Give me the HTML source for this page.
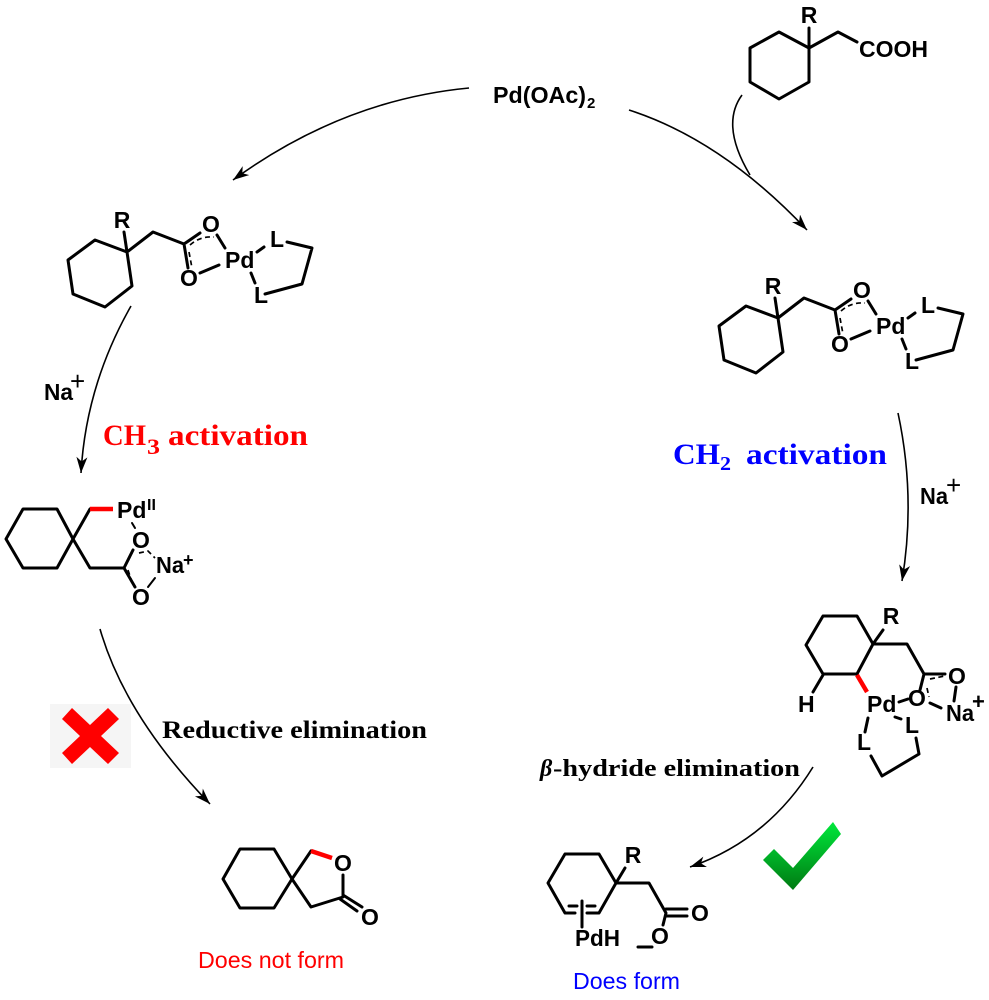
<!DOCTYPE html>
<html><head><meta charset="utf-8"><style>
html,body{margin:0;padding:0;background:#fff}
svg{display:block}
.b{fill:none;stroke:#000;stroke-width:3;stroke-linejoin:round;stroke-linecap:round}
.t{fill:none;stroke:#000;stroke-width:2;stroke-linecap:round}
.d{fill:none;stroke:#000;stroke-width:1.7;stroke-dasharray:5 3.5}
.r{fill:none;stroke:#f00;stroke-width:4.4}
.a{fill:none;stroke:#000;stroke-width:1.6}
text{font-family:"Liberation Sans",sans-serif;font-weight:bold;font-size:23px;fill:#000}
.m{text-anchor:middle}
.s{font-family:"Liberation Serif",serif}
.n{font-weight:normal}
</style></head><body>
<svg width="989" height="1000" viewBox="0 0 989 1000" xmlns="http://www.w3.org/2000/svg">
<defs>
<marker id="h" markerUnits="userSpaceOnUse" markerWidth="17" markerHeight="12" refX="16" refY="5.5" orient="auto"><path d="M0,0L16,5.5L0,11L4.5,5.5z" fill="#000"/></marker>
<linearGradient id="g" x1="0" y1="0" x2="0" y2="1"><stop offset="0" stop-color="#00e83c"/><stop offset="1" stop-color="#007a12"/></linearGradient>
</defs>

<!-- arrows -->
<path class="a" marker-end="url(#h)" d="M469,88Q343,100 233,180"/>
<path class="a" marker-end="url(#h)" d="M629,110Q722,140 807,230"/>
<path class="a" d="M742,95Q720,125 750,175"/>
<path class="a" marker-end="url(#h)" d="M131,306Q86,385 81,473"/>
<path class="a" marker-end="url(#h)" d="M898,413Q916,497 902,581"/>
<path class="a" marker-end="url(#h)" d="M100,629Q125,716 210,804"/>
<path class="a" marker-end="url(#h)" d="M813,767Q768,840 690,867"/>

<!-- Pd(OAc)2 -->
<text x="493" y="103" textLength="93" lengthAdjust="spacingAndGlyphs">Pd(OAc)</text><text x="587" y="108" style="font-size:15px">2</text>

<!-- top right substrate -->
<path class="b" d="M809,48L779,32L750,48L750,82L779,99L809,82ZM809,48L809,28M809,48L838,32L857,42"/>
<text class="m" x="809" y="23">R</text>
<text x="859" y="57" textLength="69" lengthAdjust="spacingAndGlyphs">COOH</text>

<!-- left complex -->
<path class="b" d="M127,252L95,240L68,260L73,294L105,307L132,286ZM127,252L124,232M127,252L153,232L184,244L200,233M184,244L188,268M217,235L225,248M200,273L219,265M257,252L264,247M251,273L255,283M287,242L312,248L302,284L265,294"/>
<path class="d" d="M190,245Q200,236 214,237M189,252L192,268"/>
<text class="m" x="122" y="228">R</text>
<text class="m" x="211" y="232">O</text>
<text class="m" x="189" y="286">O</text>
<text x="225" y="268">Pd</text>
<text x="270" y="247">L</text>
<text x="254" y="303">L</text>

<!-- right complex -->
<g transform="translate(651,66)">
<path class="b" d="M127,252L95,240L68,260L73,294L105,307L132,286ZM127,252L124,232M127,252L153,232L184,244L200,233M184,244L188,268M217,235L225,248M200,273L219,265M257,252L264,247M251,273L255,283M287,242L312,248L302,284L265,294"/>
<path class="d" d="M190,245Q200,236 214,237M189,252L192,268"/>
<text class="m" x="122" y="228">R</text>
<text class="m" x="211" y="232">O</text>
<text class="m" x="189" y="286">O</text>
<text x="225" y="268">Pd</text>
<text x="270" y="247">L</text>
<text x="254" y="303">L</text>
</g>

<!-- Na+ labels -->
<text x="44" y="400" textLength="29" lengthAdjust="spacingAndGlyphs">Na</text><text class="n" x="70" y="390" style="font-size:26px">+</text>
<text x="920" y="504" textLength="28" lengthAdjust="spacingAndGlyphs">Na</text><text class="n" x="946" y="494" style="font-size:26px">+</text>

<!-- activation labels -->
<text class="s" x="103" y="445" style="font-size:30px;fill:#f00" textLength="43" lengthAdjust="spacingAndGlyphs">CH</text>
<text class="s" x="147" y="454" style="font-size:22px;fill:#f00" textLength="13" lengthAdjust="spacingAndGlyphs">3</text>
<text class="s" x="168" y="445" style="font-size:30px;fill:#f00" textLength="140" lengthAdjust="spacingAndGlyphs">activation</text>
<text class="s" x="673" y="464" style="font-size:30px;fill:#00f" textLength="47" lengthAdjust="spacingAndGlyphs">CH</text>
<text class="s" x="720" y="470" style="font-size:20px;fill:#00f" textLength="11" lengthAdjust="spacingAndGlyphs">2</text>
<text class="s" x="746" y="464" style="font-size:30px;fill:#00f" textLength="141" lengthAdjust="spacingAndGlyphs">activation</text>

<!-- Pd II complex -->
<path class="b" d="M73,539L57,509L23,509L6,539L23,568L57,568ZM73,539L90,509M73,539L90,568L124,568L133,550M124,568L135,587"/>
<path class="r" d="M90,509L113,509"/>
<path class="t" d="M132,523L135,528M155,578L148,587"/>
<path class="d" d="M128,561L132,553M128,570L132,582M139,553L148,551L155,558"/>
<text x="117" y="518">Pd</text>
<text x="147" y="510" style="font-size:16px">II</text>
<text class="m" x="141" y="548">O</text>
<text class="m" x="141" y="605">O</text>
<text x="156" y="573" textLength="28" lengthAdjust="spacingAndGlyphs">Na</text>
<text x="183" y="566" style="font-size:18px">+</text>

<!-- bottom right complex -->
<path class="b" d="M873,644L857,616L823,616L806,645L823,674L857,674ZM873,644L883,630M873,644L907,644L924,674L945,674M924,674L920,690M823,675L813,692M956,687L954,701M930,703L941,708M899,702L908,699M868,718L865,732M895,717L901,719M916,738L919,754L882,776L871,756"/>
<path class="r" d="M857,675L867,692"/>
<path class="d" d="M930,679L945,676M927,688L929,697"/>
<text class="m" x="891" y="624">R</text>
<text class="m" x="957" y="684">O</text>
<text class="m" x="917" y="706">O</text>
<text x="946" y="721" textLength="28" lengthAdjust="spacingAndGlyphs">Na</text>
<text x="972" y="709" style="font-size:22px">+</text>
<text x="867" y="712">Pd</text>
<text x="798" y="712">H</text>
<text x="857" y="750">L</text>
<text x="905" y="733">L</text>

<!-- elimination labels -->
<text class="s" x="162" y="738" style="font-size:25px" textLength="265" lengthAdjust="spacingAndGlyphs">Reductive elimination</text>
<text class="s" x="540" y="776" style="font-size:24px;font-style:italic">β</text>
<text class="s" x="553" y="776" style="font-size:24px" textLength="247" lengthAdjust="spacingAndGlyphs">-hydride elimination</text>

<!-- X -->
<rect x="50" y="704" width="81" height="64" fill="#f5f5f5"/>
<polygon fill="#f00" points="72,708 90,725 108,708 119,719 101,736 119,753 108,764 90,747 72,764 62,753 80,736 62,719"/>

<!-- lactone -->
<path class="b" d="M292,879L274,849L240,849L223,879L240,908L274,908ZM292,879L311,851M343,875L343,897L311,907L292,879M343,895L362,907M340,899L357,911"/>
<path class="r" d="M311,851L332,858"/>
<text class="m" x="343" y="871">O</text>
<text class="m" x="370" y="925">O</text>
<text class="n" x="198" y="968" style="font-size:23px;fill:#f00" textLength="146" lengthAdjust="spacingAndGlyphs">Does not form</text>

<!-- product -->
<path class="b" d="M616,883L599,854L565,854L548,883L565,913L575,913M587,913L599,913L616,883M616,883L625,868M616,883L649,883L666,913L663,925M666,909L687,909M666,916L687,916M569,906L577,906M587,906L595,906M582,901L582,927M638,947L652,947"/>
<text class="m" x="633" y="863">R</text>
<text x="575" y="946" textLength="45" lengthAdjust="spacingAndGlyphs">PdH</text>
<text class="m" x="700" y="921">O</text>
<text class="m" x="660" y="944">O</text>
<text class="n" x="573" y="989" style="font-size:23px;fill:#00f" textLength="107" lengthAdjust="spacingAndGlyphs">Does form</text>

<!-- check -->
<polygon fill="url(#g)" points="763,860 774,849 793,868 833,822 841,834 793,890"/>
</svg>
</body></html>
